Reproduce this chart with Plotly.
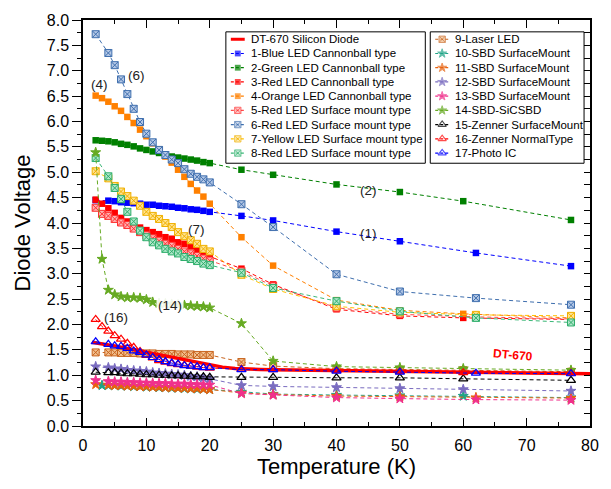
import plotly.graph_objects as go

# ---------------- data ----------------
dt670_T = [1.4, 2, 3, 4, 5, 6, 7, 8, 9, 10, 12, 14, 16, 18, 20, 22, 24, 26, 28, 30, 35, 40, 50, 60, 70, 77, 80]
dt670_V = [1.65, 1.64, 1.62, 1.60, 1.575, 1.55, 1.525, 1.50, 1.48, 1.46, 1.41, 1.36, 1.31, 1.26, 1.20, 1.16, 1.135,
           1.12, 1.115, 1.11, 1.10, 1.095, 1.075, 1.06, 1.045, 1.035, 1.03]

s1_T = [2, 4, 5, 6, 7, 8, 9, 10, 11, 12, 13, 14, 15, 16, 17, 18, 19, 20, 25, 30, 40, 50, 62, 77]
s1_V = [4.45, 4.44, 4.43, 4.41, 4.40, 4.39, 4.38, 4.36, 4.36, 4.34, 4.33, 4.32, 4.30, 4.29, 4.27, 4.26, 4.24, 4.22,
        4.14, 4.05, 3.83, 3.64, 3.41, 3.15]

s2_T = [2, 3, 4, 5, 6, 7, 8, 9, 10, 11, 12, 13, 14, 15, 16, 17, 18, 19, 20, 25, 30, 40, 50, 60, 77]
s2_V = [5.63, 5.62, 5.61, 5.59, 5.56, 5.54, 5.51, 5.47, 5.44, 5.41, 5.38, 5.34, 5.31, 5.29, 5.27, 5.25, 5.23, 5.20,
        5.18, 5.05, 4.95, 4.76, 4.61, 4.43, 4.06]

s3_T = [2, 3, 4, 5, 6, 7, 8, 9, 10, 11, 12, 13, 14, 15, 16, 17, 18, 19, 20, 25, 30, 40, 50, 60, 77]
s3_V = [4.46, 4.38, 4.29, 4.20, 4.10, 4.03, 3.96, 3.91, 3.86, 3.82, 3.78, 3.72, 3.69, 3.62, 3.59, 3.54, 3.48, 3.41,
        3.34, 3.10, 2.79, 2.30, 2.17, 2.13, 2.10]

s4_T = [2, 3, 4, 5, 6, 7, 8, 9, 10, 11, 12, 13, 14, 15, 16, 17, 18, 19, 20, 25, 30, 40, 50, 60, 77]
s4_V = [6.51, 6.46, 6.39, 6.30, 6.21, 6.09, 5.97, 5.84, 5.71, 5.57, 5.45, 5.31, 5.19, 5.05, 4.91, 4.77, 4.64, 4.52,
        4.38, 3.72, 3.16, 2.48, 2.28, 2.21, 2.13]

s5_T = [2, 3, 4, 5, 6, 7, 8, 9, 10, 11, 12, 13, 14, 15, 16, 17, 18, 19, 20, 25, 30, 40, 50, 62, 77]
s5_V = [4.30, 4.18, 4.14, 4.08, 4.01, 3.96, 3.89, 3.82, 3.76, 3.70, 3.65, 3.59, 3.55, 3.49, 3.44, 3.40, 3.35, 3.30,
        3.26, 3.05, 2.76, 2.33, 2.20, 2.15, 2.11]

s6_T = [2, 4, 5, 6, 7, 8, 9, 10, 11, 12, 13, 14, 15, 16, 17, 18, 19, 20, 25, 30, 40, 50, 62, 77]
s6_V = [7.72, 7.35, 7.11, 6.83, 6.54, 6.25, 5.99, 5.76, 5.59, 5.44, 5.34, 5.25, 5.18, 5.06, 4.97, 4.91, 4.86, 4.80,
        4.37, 3.92, 2.99, 2.65, 2.52, 2.39]

s7_T = [2, 4, 5, 6, 7, 8, 9, 10, 11, 12, 13, 14, 15, 16, 17, 18, 19, 20, 25, 30, 40, 50, 62, 77]
s7_V = [5.02, 4.88, 4.73, 4.62, 4.53, 4.44, 4.34, 4.22, 4.14, 4.08, 4.00, 3.92, 3.82, 3.74, 3.66, 3.59, 3.49, 3.44,
        2.98, 2.70, 2.36, 2.24, 2.19, 2.17]

s8_T = [2, 4, 5, 6, 7, 8, 9, 10, 11, 12, 13, 14, 15, 16, 17, 18, 19, 20, 25, 30, 40, 50, 62, 77]
s8_V = [5.28, 4.92, 4.69, 4.47, 4.22, 4.03, 3.85, 3.72, 3.62, 3.56, 3.49, 3.44, 3.40, 3.33, 3.29, 3.25, 3.20, 3.17,
        3.02, 2.72, 2.46, 2.26, 2.13, 2.04]

s9_T = [2, 4, 5, 6, 7, 8, 9, 10, 11, 12, 13, 14, 15, 16, 17, 18, 19, 20, 25, 30, 40, 50, 60, 77]
s9_V = [1.45, 1.45, 1.45, 1.44, 1.44, 1.44, 1.43, 1.43, 1.43, 1.42, 1.42, 1.42, 1.41, 1.41, 1.41, 1.40, 1.40, 1.40,
        1.26, 1.18, 1.13, 1.11, 1.10, 1.07]

s10_T = [3, 4, 5, 6, 7, 8, 9, 10, 11, 12, 13, 14, 15, 16, 17, 18, 19, 20, 25, 30, 40, 50, 60, 77]
s10_V = [0.80, 0.80, 0.80, 0.79, 0.79, 0.78, 0.78, 0.77, 0.77, 0.76, 0.76, 0.75, 0.75, 0.74, 0.74, 0.73, 0.73, 0.72,
         0.67, 0.63, 0.61, 0.60, 0.59, 0.56]

s11_T = [2, 4, 5, 6, 7, 8, 9, 10, 11, 12, 13, 14, 15, 16, 17, 18, 19, 20, 25, 30, 40, 50, 62, 77]
s11_V = [0.82, 0.81, 0.80, 0.80, 0.79, 0.79, 0.78, 0.78, 0.77, 0.77, 0.76, 0.76, 0.75, 0.75, 0.74, 0.74, 0.73, 0.72,
         0.65, 0.62, 0.59, 0.58, 0.56, 0.55]

s12_T = [2, 4, 5, 6, 7, 8, 9, 10, 11, 12, 13, 14, 15, 16, 17, 18, 19, 20, 25, 30, 40, 50, 60, 77]
s12_V = [1.17, 1.15, 1.13, 1.12, 1.10, 1.09, 1.08, 1.07, 1.05, 1.04, 1.03, 1.02, 1.01, 1.00, 0.98, 0.97, 0.95, 0.93,
         0.80, 0.78, 0.76, 0.74, 0.72, 0.69]

s13_T = [2, 4, 5, 6, 7, 8, 9, 10, 11, 12, 13, 14, 15, 16, 17, 18, 19, 20, 25, 30, 40, 50, 62, 77]
s13_V = [0.90, 0.88, 0.87, 0.87, 0.86, 0.86, 0.85, 0.85, 0.84, 0.84, 0.84, 0.83, 0.83, 0.83, 0.82, 0.82, 0.81, 0.81,
         0.64, 0.61, 0.56, 0.54, 0.52, 0.51]

s14_T = [2, 3, 4, 5, 6, 7, 8, 9, 10, 11, 12, 13, 14, 15, 16, 17, 18, 19, 20, 25, 30, 40, 50, 60, 77]
s14_V = [5.39, 3.29, 2.68, 2.59, 2.55, 2.53, 2.53, 2.52, 2.49, 2.44, 2.42, 2.41, 2.40, 2.39, 2.38, 2.37, 2.36, 2.35,
         2.33, 2.02, 1.28, 1.17, 1.15, 1.13, 1.10]

s15_T = [2, 4, 5, 6, 7, 8, 9, 10, 11, 12, 13, 14, 15, 16, 17, 18, 19, 20, 25, 30, 40, 50, 60, 77]
s15_V = [1.06, 1.05, 1.05, 1.04, 1.03, 1.03, 1.02, 1.01, 1.01, 1.00, 1.00, 0.99, 0.99, 0.98, 0.98, 0.97, 0.97, 0.96,
         0.96, 0.96, 0.95, 0.95, 0.93, 0.90]

s16_T = [2, 3, 4, 5, 6, 7, 8, 9, 10, 11, 12, 13, 14, 15, 16, 17, 18, 19, 20, 25, 30, 40, 50, 60, 77]
s16_V = [2.10, 1.96, 1.87, 1.78, 1.71, 1.63, 1.55, 1.47, 1.39, 1.34, 1.29, 1.26, 1.23, 1.21, 1.20, 1.18, 1.16, 1.15,
         1.14, 1.12, 1.11, 1.09, 1.07, 1.05, 1.04]

s17_T = [2, 4, 5, 6, 7, 8, 9, 10, 11, 12, 13, 14, 15, 16, 17, 18, 19, 20, 25, 30, 40, 50, 62, 77]
s17_V = [1.66, 1.61, 1.58, 1.57, 1.53, 1.48, 1.45, 1.40, 1.35, 1.31, 1.27, 1.24, 1.22, 1.19, 1.18, 1.17, 1.15, 1.15,
         1.11, 1.11, 1.08, 1.06, 1.04, 1.03]

dt670_name = "DT-670 Silicon Diode"
series_names = [
    "1-Blue LED Cannonball type", "2-Green LED Cannonball type", "3-Red LED Cannonball type",
    "4-Orange LED Cannonball type", "5-Red LED Surface mount type", "6-Red LED Surface mount type",
    "7-Yellow LED Surface mount type", "8-Red LED Surface mount type", "9-Laser LED",
    "10-SBD SurfaceMount", "11-SBD SurfaceMount", "12-SBD SurfaceMount", "13-SBD SurfaceMount",
    "14-SBD-SiCSBD", "15-Zenner SurfaceMount", "16-Zenner NormalType", "17-Photo IC",
]
series_T = [s1_T, s2_T, s3_T, s4_T, s5_T, s6_T, s7_T, s8_T, s9_T, s10_T, s11_T, s12_T, s13_T, s14_T, s15_T, s16_T, s17_T]
series_V = [s1_V, s2_V, s3_V, s4_V, s5_V, s6_V, s7_V, s8_V, s9_V, s10_V, s11_V, s12_V, s13_V, s14_V, s15_V, s16_V, s17_V]

curve_labels = ["(4)", "(6)", "(2)", "(1)", "(7)", "(14)", "(16)"]
curve_label_T = [2.6, 8.5, 45.0, 45.0, 17.9, 13.8, 5.2]
curve_label_V = [6.72, 6.90, 4.65, 3.79, 3.87, 2.38, 2.13]

# ---------------- styles ----------------
# (line colour, marker symbol, marker fill, marker edge, marker size)
styles = [
    ("#0000ff", "square", "#0000ff", "#0000ff", 6.5),
    ("#008000", "square", "#008000", "#008000", 6.5),
    ("#ff0000", "square", "#ff0000", "#ff0000", 6.5),
    ("#ff8000", "square", "#ff8000", "#ff8000", 6.5),
    ("#ff4a4a", "square-x", "#ffb0b0", "#ff3030", 7),
    ("#3f6fae", "square-x", "#b5c8e6", "#3f6fae", 7),
    ("#ffc000", "square-x", "#ffe390", "#f0b000", 7),
    ("#3cb878", "square-x", "#aee6c8", "#2fae6c", 7),
    ("#c8641e", "square-x", "#f2c090", "#c8641e", 7),
    ("#1fa386", "star", "#1fa386", "#1fa386", 7.5),
    ("#e8620e", "star", "#e8620e", "#e8620e", 7.5),
    ("#7a6cc0", "star", "#7a6cc0", "#7a6cc0", 7.5),
    ("#f0308c", "star", "#f0308c", "#f0308c", 7.5),
    ("#66aa22", "star", "#66aa22", "#66aa22", 7.5),
    ("#000000", "triangle-up-open", "#000000", "#000000", 8),
    ("#ff0000", "triangle-up-open", "#ff0000", "#ff0000", 8),
    ("#0000ff", "triangle-up-open", "#0000ff", "#0000ff", 8),
]
DASH = "4px,3px"
FONT = "Liberation Sans, Arial, sans-serif"

fig = go.Figure()


def add_series(i):
    lc, sym, fill, edge, size = styles[i]
    is_open = sym.endswith("-open")
    fig.add_trace(go.Scatter(
        x=series_T[i], y=series_V[i], mode="lines+markers", name=series_names[i],
        line=dict(color=lc, width=1, dash=DASH),
        marker=dict(symbol=sym, size=size, color=fill if not is_open else edge,
                    line=dict(color=edge, width=1.2 if is_open else (0 if sym == "square" else 1))),
        showlegend=False, hoverinfo="skip"))


for i in range(15):
    add_series(i)
fig.add_trace(go.Scatter(x=dt670_T, y=dt670_V, mode="lines", name=dt670_name,
                         line=dict(color="#ff0000", width=3.5), showlegend=False, hoverinfo="skip"))
for i in range(15, 17):
    add_series(i)

# ---------------- manual legend (two boxes) ----------------
W, H = 611, 489
ML, MR, MT, MB = 83, 17, 15, 63
PW, PH = W - ML - MR, H - MT - MB


def px2paper_x(px):
    return (px - ML) / PW


def px2paper_y(py):
    return (H - MB - py) / PH


shapes = []
annots = []
row0, rowstep = 34.5, 14.4
boxes = [(227, 428), (433, 588)]
box_top, box_bot = 27, 160
for (bx0, bx1) in boxes:
    shapes.append(dict(type="rect", xref="paper", yref="paper",
                       x0=px2paper_x(bx0), x1=px2paper_x(bx1), y0=px2paper_y(box_bot), y1=px2paper_y(box_top),
                       line=dict(color="#000000", width=1), fillcolor="rgba(0,0,0,0)", layer="above"))

left_entries = [(-1)] + list(range(0, 8))
right_entries = list(range(8, 17))
glyph_x, glyph_y, g_sym, g_fill, g_edge, g_size, g_lw = [], [], [], [], [], [], []
for col, entries in enumerate([left_entries, right_entries]):
    bx0 = boxes[col][0]
    lx0, lx1, tx = bx0 + 5, bx0 + 19, bx0 + 23
    for r, idx in enumerate(entries):
        py = row0 + r * rowstep
        if idx == -1:
            shapes.append(dict(type="line", xref="paper", yref="paper", x0=px2paper_x(lx0), x1=px2paper_x(lx1),
                               y0=px2paper_y(py), y1=px2paper_y(py), line=dict(color="#ff0000", width=3),
                               layer="above"))
            label = dt670_name
        else:
            lc, sym, fill, edge, size = styles[idx]
            shapes.append(dict(type="line", xref="paper", yref="paper", x0=px2paper_x(lx0), x1=px2paper_x(lx1),
                               y0=px2paper_y(py), y1=px2paper_y(py), line=dict(color=lc, width=1.2, dash="3px,2px"),
                               layer="below"))
            glyph_x.append(px2paper_x((lx0 + lx1) / 2))
            glyph_y.append(px2paper_y(py) * 8)
            is_open = sym.endswith("-open")
            g_sym.append(sym)
            g_fill.append(edge if is_open else fill)
            g_edge.append(edge)
            g_size.append(size * 0.9)
            g_lw.append(1.1 if is_open else (0 if sym == "square" else 1))
            label = series_names[idx]
        annots.append(dict(x=px2paper_x(tx), y=px2paper_y(py), xref="paper", yref="paper", text=label,
                           showarrow=False, xanchor="left", yanchor="middle",
                           font=dict(family=FONT, size=11.5, color="#000000")))

fig.add_trace(go.Scatter(x=glyph_x, y=glyph_y, xaxis="x2", yaxis="y2", mode="markers",
                         marker=dict(symbol=g_sym, color=g_fill, size=g_size,
                                     line=dict(color=g_edge, width=g_lw)),
                         showlegend=False, hoverinfo="skip", cliponaxis=False))

for txt, tx, ty in zip(curve_labels, curve_label_T, curve_label_V):
    annots.append(dict(x=tx, y=ty, xref="x", yref="y", text=txt, showarrow=False,
                       font=dict(family=FONT, size=13.5, color="#222222"),
                       bgcolor="rgba(255,255,255,0.9)" if txt == "(14)" else None))
annots.append(dict(x=67.9, y=1.39, xref="x", yref="y", text="<b>DT-670</b>", showarrow=False, textangle=5,
                   font=dict(family=FONT, size=12, color="#ff0000")))

fig.update_layout(
    width=W, height=H, margin=dict(l=ML, r=MR, t=MT, b=MB),
    plot_bgcolor="white", paper_bgcolor="white",
    font=dict(family=FONT, color="#000000"),
    showlegend=False,
    shapes=shapes, annotations=annots,
    xaxis=dict(range=[0, 80], dtick=10, tick0=0, ticks="inside", ticklen=8, tickwidth=1.2, tickcolor="black",
               minor=dict(ticks="inside", ticklen=4, dtick=5, tickwidth=1.2, tickcolor="black"),
               showline=True, linecolor="black", linewidth=1.5, mirror="ticks",
               showgrid=False, zeroline=False, tickfont=dict(size=16), ticklabelstandoff=4,
               title=dict(text="Temperature (K)", font=dict(size=22), standoff=3)),
    yaxis=dict(range=[0, 8], dtick=0.5, tick0=0, tickformat=".1f", ticks="outside", ticklen=9, tickwidth=1.2,
               tickcolor="black",
               minor=dict(ticks="outside", ticklen=4.5, dtick=0.25, tickwidth=1.2, tickcolor="black"),
               showline=True, linecolor="black", linewidth=1.5, mirror=False,
               showgrid=False, zeroline=False, tickfont=dict(size=16),
               title=dict(text="Diode Voltage", font=dict(size=22), standoff=10)),
    xaxis2=dict(overlaying="x", range=[0, 1], visible=False),
    yaxis2=dict(overlaying="y", side="right", range=[0, 8], dtick=0.5, tick0=0, ticks="inside", ticklen=6,
                tickwidth=1.2, tickcolor="black",
                minor=dict(ticks="inside", ticklen=6, dtick=0.25, tickwidth=1.2, tickcolor="black"),
                showticklabels=False, showline=True, linecolor="black", linewidth=1.5,
                showgrid=False, zeroline=False),
)

fig.write_html("out.html")
